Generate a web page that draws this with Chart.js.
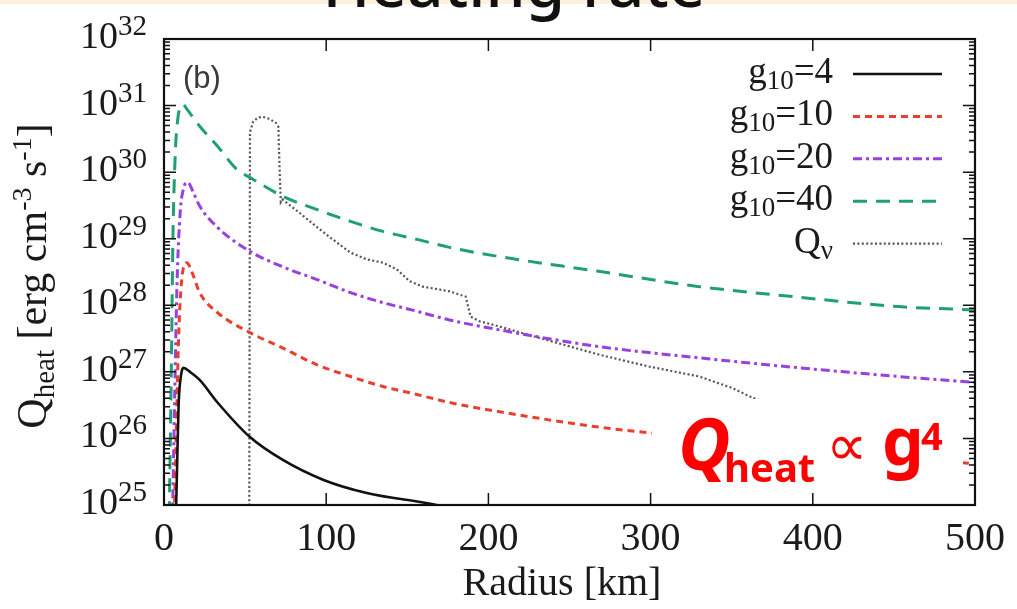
<!DOCTYPE html>
<html>
<head>
<meta charset="utf-8">
<script src="https://cdn.jsdelivr.net/npm/chart.js@4.4.1/dist/chart.umd.min.js"></script>
<style>
  html, body { margin: 0; padding: 0; background: #fff; }
  #wrap { position: relative; width: 1017px; height: 609px; }
</style>
</head>
<body>
<div id="wrap"><canvas id="graph"></canvas></div>
<script>
// radius [km] and log10(Q_heat) for each curve
var r4    = [7, 8, 9, 10.5, 12, 16, 22, 33, 53, 73, 98, 125, 168, 200];
var q4Log = [24.5, 25.5, 26.5, 26.95, 27.06, 27.0, 26.88, 26.54, 26.02, 25.68, 25.38, 25.18, 25.0, 24.8];

var r10    = [6, 7.5, 9, 11, 14, 18, 22, 33, 53, 73, 94, 115, 135, 156, 176, 207, 268, 301, 350, 400, 450, 500];
var q10Log = [24.5, 26.0, 27.5, 28.4, 28.64, 28.45, 28.19, 27.89, 27.59, 27.36, 27.11, 26.93, 26.78, 26.66, 26.54, 26.40, 26.17, 26.08, 25.95, 25.82, 25.72, 25.62];

var r20    = [5, 6.5, 8, 10, 12, 14.5, 18, 22, 33, 53, 73, 94, 115, 135, 156, 176, 207, 268, 330, 392, 453, 500];
var q20Log = [24.5, 26.5, 28.3, 29.4, 29.75, 29.85, 29.7, 29.49, 29.17, 28.81, 28.58, 28.39, 28.19, 28.04, 27.91, 27.78, 27.63, 27.38, 27.21, 27.06, 26.93, 26.84];

var r40    = [3, 4.5, 5.5, 7, 8.5, 10, 11.7, 14, 22, 33, 45, 53, 73, 94, 115, 135, 156, 176, 207, 268, 330, 392, 453, 500];
var q40Log = [24.5, 27.0, 29.0, 30.3, 30.8, 30.97, 31.02, 30.95, 30.69, 30.39, 30.04, 29.92, 29.64, 29.44, 29.26, 29.11, 28.99, 28.87, 28.73, 28.51, 28.28, 28.12, 27.98, 27.93];

var rNu    = [52.5, 53, 55, 58, 61, 65, 69, 70.5, 71.2, 72, 73, 83, 94, 104, 115, 125, 135, 143.5, 151.5, 159.5, 176, 186, 189, 194.5, 207, 230, 268, 299, 330, 350, 363, 375];
var qNuLog = [24.0, 30.6, 30.76, 30.82, 30.83, 30.8, 30.74, 30.68, 30.1, 29.55, 29.59, 29.40, 29.18, 28.99, 28.79, 28.69, 28.64, 28.54, 28.36, 28.28, 28.21, 28.13, 27.83, 27.76, 27.68, 27.52, 27.26, 27.08, 26.93, 26.76, 26.61, 26.5];

var xTicks = [0, 100, 200, 300, 400, 500];
var yDecades = [25, 26, 27, 28, 29, 30, 31, 32];

function pts(rs, logs) {
  return rs.map(function(r, i) { return { x: r, y: Math.pow(10, logs[i]) }; });
}

var series = [
  { name: ['g', '10', '=4'],  r: r4,  q: q4Log,  color: '#111111', dash: [],            width: 2.6 },
  { name: ['g', '10', '=10'], r: r10, q: q10Log, color: '#e8402f', dash: [7, 5],        width: 3 },
  { name: ['g', '10', '=20'], r: r20, q: q20Log, color: '#9a3fe0', dash: [9, 4, 3, 4],  width: 3 },
  { name: ['g', '10', '=40'], r: r40, q: q40Log, color: '#1f9e78', dash: [14, 9],       width: 3 },
  { name: ['Q', '\u03bd', ''], r: rNu, q: qNuLog, color: '#555555', dash: [2, 2.4],     width: 2.2 }
];

var SERIF = '"Liberation Serif", "Times New Roman", serif';

function rich(ctx, parts, x, y, align) {
  var w = 0;
  parts.forEach(function(p) { ctx.font = p[1]; w += ctx.measureText(p[0]).width; });
  var cx = align === 'right' ? x - w : (align === 'center' ? x - w / 2 : x);
  ctx.textAlign = 'left';
  ctx.textBaseline = 'alphabetic';
  parts.forEach(function(p) {
    ctx.font = p[1];
    ctx.fillText(p[0], cx, y + (p[2] || 0));
    cx += ctx.measureText(p[0]).width;
  });
}

var decor = {
  id: 'decor',
  afterDatasetsDraw: function(chart) {
    var ctx = chart.ctx, a = chart.chartArea;
    var xs = chart.scales.x, ys = chart.scales.y;
    ctx.save();

    // white box with the scaling note
    ctx.fillStyle = '#fff';
    ctx.fillRect(652, 399, 311, 92);
    ctx.fillStyle = '#ff0000';
    ctx.textAlign = 'left';
    ctx.textBaseline = 'alphabetic';
    ctx.font = 'italic bold 72px "Noto Sans"';
    ctx.fillText('Q', 678, 470);
    ctx.font = 'bold 40px "Noto Sans"';
    ctx.fillText('heat', 724, 482);
    ctx.font = '58px "DejaVu Sans"';
    ctx.fillText('\u221d', 826, 465);
    ctx.font = 'bold 66px "Noto Sans"';
    ctx.fillText('g', 882, 465);
    ctx.font = 'bold 38px "Noto Sans"';
    ctx.fillText('4', 921, 450);

    // frame
    ctx.strokeStyle = '#111';
    ctx.lineWidth = 2.2;
    ctx.strokeRect(a.left, a.top, a.right - a.left, a.bottom - a.top);

    // x ticks (top and bottom, inward)
    ctx.lineWidth = 1.5;
    ctx.beginPath();
    xTicks.forEach(function(v) {
      var px = xs.getPixelForValue(v);
      ctx.moveTo(px, a.bottom); ctx.lineTo(px, a.bottom - 12);
      ctx.moveTo(px, a.top);    ctx.lineTo(px, a.top + 12);
    });
    // y ticks, decades long, minors short
    yDecades.forEach(function(d) {
      for (var m = 1; m <= 9; m++) {
        if (d === 32 && m > 1) break;
        var py = ys.getPixelForValue(m * Math.pow(10, d));
        var len = m === 1 ? 12 : 6;
        ctx.moveTo(a.left, py);  ctx.lineTo(a.left + len, py);
        ctx.moveTo(a.right, py); ctx.lineTo(a.right - len, py);
      }
    });
    ctx.stroke();

    // tick labels
    ctx.fillStyle = '#1a1a1a';
    xTicks.forEach(function(v) {
      rich(ctx, [[String(v), '40px ' + SERIF, 0]], xs.getPixelForValue(v), 550, 'center');
    });
    yDecades.forEach(function(d) {
      var py = ys.getPixelForValue(Math.pow(10, d));
      rich(ctx, [['10', '38px ' + SERIF, 0], [String(d), '29px ' + SERIF, -13]], 147, py + 9, 'right');
    });

    // axis titles
    rich(ctx, [['Radius [km]', '40px ' + SERIF, 0]], 562, 595, 'center');
    ctx.save();
    ctx.translate(46, 276);
    ctx.rotate(-Math.PI / 2);
    rich(ctx, [['Q', '42px ' + SERIF, 0], ['heat', '29px ' + SERIF, 8], [' [erg cm', '42px ' + SERIF, 0],
               ['-3', '28px ' + SERIF, -15], [' s', '42px ' + SERIF, 0], ['-1', '28px ' + SERIF, -15],
               [']', '42px ' + SERIF, 0]], 0, 0, 'center');
    ctx.restore();

    // panel tag
    ctx.fillStyle = '#3a3a3a';
    ctx.font = '31px "Liberation Sans"';
    ctx.fillText('(b)', 183, 88);

    // legend
    var ly = 74;
    series.forEach(function(s) {
      ctx.fillStyle = '#1a1a1a';
      rich(ctx, [[s.name[0], '37px ' + SERIF, 0], [s.name[1], '27px ' + SERIF, 6], [s.name[2], '37px ' + SERIF, 0]],
           833, ly + 9, 'right');
      ctx.strokeStyle = s.color;
      ctx.lineWidth = s.width;
      ctx.setLineDash(s.dash);
      ctx.beginPath();
      ctx.moveTo(853, ly); ctx.lineTo(942, ly);
      ctx.stroke();
      ctx.setLineDash([]);
      ly += 42.4;
    });

    // page heading, cut at the top edge
    ctx.fillStyle = '#fbf1dc';
    ctx.fillRect(0, 0, 1017, 4);
    ctx.fillStyle = '#111';
    ctx.font = '500 64px "Noto Sans"';
    ctx.textAlign = 'center';
    ctx.fillText('Heating rate', 514, 7);

    ctx.restore();
  }
};

var ctx = document.getElementById('graph');
var myChart = new Chart(ctx, {
  type: 'line',
  data: {
    datasets: series.map(function(s) {
      return {
        label: s.name.join(''),
        data: pts(s.r, s.q),
        borderColor: s.color,
        borderWidth: s.width,
        borderDash: s.dash,
        pointRadius: 0,
        fill: false,
        cubicInterpolationMode: s.r === rNu ? 'default' : 'monotone',
        tension: 0
      };
    })
  },
  options: {
    responsive: true,
    maintainAspectRatio: false,
    animation: false,
    events: [],
    layout: { padding: { left: 164, right: 42, top: 39, bottom: 104 } },
    plugins: { legend: { display: false }, tooltip: { enabled: false } },
    scales: {
      x: { type: 'linear', min: 0, max: 500, display: false },
      y: { type: 'logarithmic', min: 1e25, max: 1e32, display: false }
    }
  },
  plugins: [decor]
});
</script>
</body>
</html>
